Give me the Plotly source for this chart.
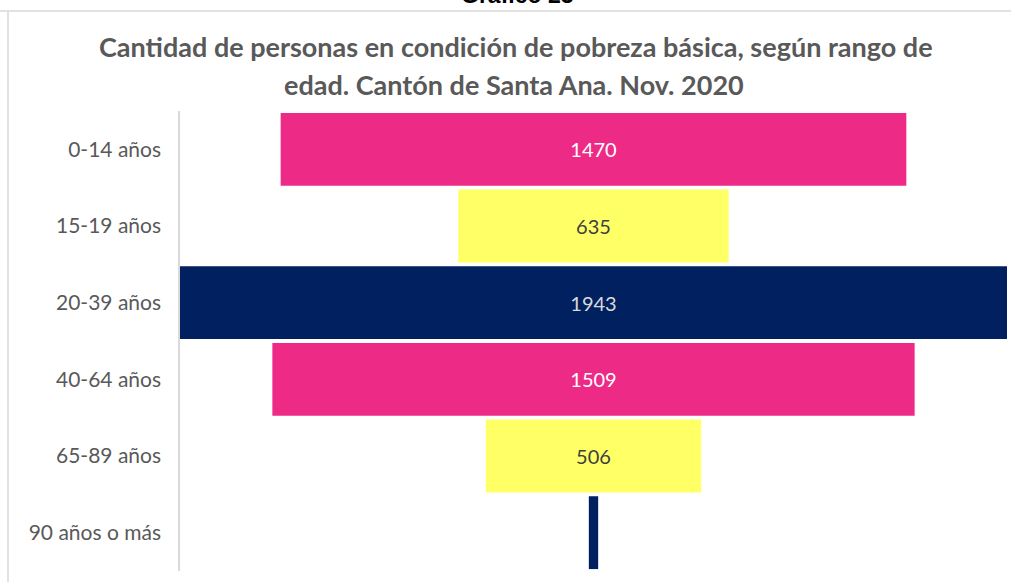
import plotly.graph_objects as go

categories = ["0-14 años", "15-19 años", "20-39 años", "40-64 años", "65-89 años", "90 años o más"]
values = [1470, 635, 1943, 1509, 506, 22]
labels = ["1470", "635", "1943", "1509", "506", ""]
bar_colors = ["#EE2A87", "#FFFF66", "#002060", "#EE2A87", "#FFFF66", "#002060"]
text_colors = ["#FFFFFF", "#404040", "#D9D9D9", "#FFFFFF", "#404040", "#D9D9D9"]

W, H = 1011, 582
L, R, T, B = 180, 4, 111, 11
PW, PH = W - L - R, H - T - B

def px(x):
    return (x - L) / PW

def py(y):
    return 1 + (T - y) / PH

fig = go.Figure(go.Funnel(
    y=categories,
    x=values,
    text=labels,
    textinfo="text",
    textposition="inside",
    insidetextanchor="middle",
    textfont=dict(family="Lato", size=20, color=text_colors),
    marker=dict(color=bar_colors, line=dict(width=0)),
    connector=dict(visible=False),
    hoverinfo="skip",
))

fig.update_layout(
    width=W, height=H,
    margin=dict(l=L, r=R, t=T, b=B),
    paper_bgcolor="white", plot_bgcolor="white",
    funnelgap=0.05,
    showlegend=False,
    xaxis=dict(visible=False, range=[-max(values) / 2, max(values) / 2]),
    yaxis=dict(showline=True, linecolor="#D9D9D9", linewidth=1.5, ticks="",
               tickfont=dict(family="Lato", size=21, color="#595959"),
               showgrid=False, ticklabelstandoff=13),
    font=dict(family="Lato"),
    annotations=[
        dict(text="<b>Cantidad de personas en condición de pobreza básica, según rango de</b>",
             xref="paper", yref="paper", x=px(516), y=py(47), xanchor="center", yanchor="middle",
             showarrow=False, font=dict(family="Lato", size=27, color="#595959")),
        dict(text="<b>edad. Cantón de Santa Ana. Nov. 2020</b>",
             xref="paper", yref="paper", x=px(514), y=py(84), xanchor="center", yanchor="middle",
             showarrow=False, font=dict(family="Lato", size=27, color="#595959")),
        dict(text="<b>Gráfico 23</b>",
             xref="paper", yref="paper", x=px(517), y=py(10), xanchor="center", yanchor="bottom",
             showarrow=False, font=dict(family="Liberation Sans", size=23, color="#000000")),
    ],
    shapes=[
        dict(type="line", xref="paper", yref="paper", x0=px(0), x1=px(W), y0=py(11), y1=py(11),
             line=dict(color="#D9D9D9", width=1.5)),
        dict(type="line", xref="paper", yref="paper", x0=px(8), x1=px(8), y0=py(11), y1=py(H),
             line=dict(color="#D9D9D9", width=1.5)),
    ],
)

fig.write_html("out.html",
               config={"displayModeBar": False},
               post_script="document.body.style.margin='0';document.body.style.overflow='hidden';")
